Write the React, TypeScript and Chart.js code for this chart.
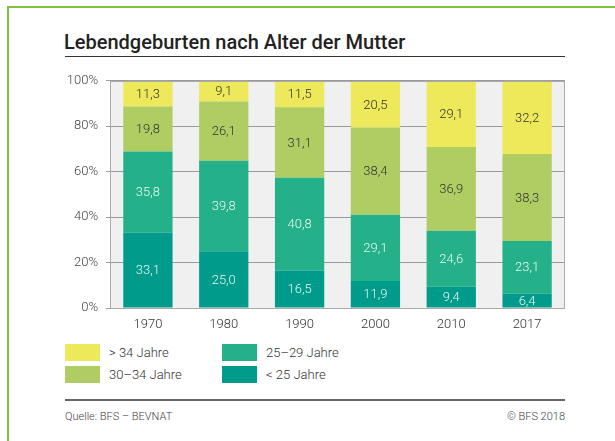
import React, { useEffect, useRef } from "react";
import { Chart, registerables } from "chart.js";

Chart.register(...registerables);

const categories = ["1970", "1980", "1990", "2000", "2010", "2017"];
const under25 = [33.1, 25.0, 16.5, 11.9, 9.4, 6.4];
const age25to29 = [35.8, 39.8, 40.8, 29.1, 24.6, 23.1];
const age30to34 = [19.8, 26.1, 31.1, 38.4, 36.9, 38.3];
const over34 = [11.3, 9.1, 11.5, 20.5, 29.1, 32.2];
const yTicks = [0, 20, 40, 60, 80, 100];

const seriesNames = ["< 25 Jahre", "25–29 Jahre", "30–34 Jahre", "> 34 Jahre"];
const seriesColors = ["#009b8b", "#24b088", "#afcd63", "#eee95a"];
const labelColors = ["rgba(255,255,255,0.9)", "rgba(255,255,255,0.9)", "#333", "#333"];

const FONT = "Roboto, 'Noto Sans', sans-serif";

const bgPlugin = {
  id: "bgFrame",
  beforeDraw(chart: any) {
    const { ctx, chartArea: a } = chart;
    ctx.save();
    ctx.fillStyle = "#f0f0f0";
    ctx.fillRect(a.left, a.top, a.right - a.left, a.bottom - a.top);
    ctx.restore();
  },
  afterDatasetsDraw(chart: any) {
    const { ctx, chartArea: a } = chart;
    ctx.save();
    ctx.font = `300 13px ${FONT}`;
    ctx.textAlign = "center";
    ctx.textBaseline = "middle";
    chart.data.datasets.forEach((ds: any, di: number) => {
      const meta = chart.getDatasetMeta(di);
      meta.data.forEach((bar: any, i: number) => {
        const v = ds.data[i];
        const y = (bar.y + bar.base) / 2;
        ctx.fillStyle = labelColors[di];
        ctx.fillText(v.toFixed(1).replace(".", ","), bar.x, y + 1);
      });
    });
    ctx.strokeStyle = "#aaaaaa";
    ctx.lineWidth = 1;
    ctx.strokeRect(Math.round(a.left) + 0.5, Math.round(a.top) + 0.5, Math.round(a.right - a.left) - 1, Math.round(a.bottom - a.top));
    ctx.restore();
  },
};

function ChartBox() {
  const ref = useRef<HTMLCanvasElement | null>(null);
  useEffect(() => {
    if (!ref.current) return;
    const data = [under25, age25to29, age30to34, over34];
    const chart = new Chart(ref.current, {
      type: "bar",
      data: {
        labels: categories,
        datasets: data.map((d, i) => ({
          label: seriesNames[i],
          data: d,
          backgroundColor: seriesColors[i],
          borderWidth: 0,
          categoryPercentage: 1,
          barPercentage: 0.65,
        })),
      },
      options: {
        animation: false,
        responsive: false,
        maintainAspectRatio: false,
        layout: { padding: { left: 10, right: 15, top: 10, bottom: 0 } },
        plugins: { legend: { display: false }, tooltip: { enabled: false }, title: { display: false } },
        scales: {
          x: {
            stacked: true,
            grid: { display: false, drawTicks: false },
            border: { display: false },
            ticks: { color: "#333", font: { family: FONT, size: 13, weight: "300" }, padding: 9 },
            afterFit: (s: any) => { s.height = 30; },
          },
          y: {
            stacked: true,
            min: 0,
            max: 100,
            afterBuildTicks: (s: any) => { s.ticks = yTicks.map((v) => ({ value: v })); },
            grid: { color: "#9a9a9a", lineWidth: 1, tickLength: 4 },
            border: { display: false },
            ticks: {
              color: "#444",
              font: { family: FONT, size: 13, weight: "300" },
              padding: 8,
              callback: (v: any) => `${v}%`,
            },
            afterFit: (s: any) => { s.width = 60; },
          },
        },
      },
      plugins: [bgPlugin],
    } as any);
    return () => chart.destroy();
  }, []);
  return <canvas ref={ref} width={540} height={273} style={{ position: "absolute", left: 40, top: 65, width: 540, height: 273 }} />;
}

const legendItems = [
  { name: "> 34 Jahre", color: seriesColors[3], left: 65, top: 344 },
  { name: "30–34 Jahre", color: seriesColors[2], left: 65, top: 366 },
  { name: "25–29 Jahre", color: seriesColors[1], left: 222, top: 344 },
  { name: "< 25 Jahre", color: seriesColors[0], left: 222, top: 366 },
];

export default function App() {
  return (
    <div style={{ position: "fixed", left: 0, top: 0, width: 615, height: 441, overflow: "hidden", background: "#fff", fontFamily: FONT }}>
      <div style={{ position: "absolute", left: 7, top: 6, width: 700, height: 500, borderLeft: "2px solid #7ec242", borderTop: "2px solid #7ec242" }} />
      <div style={{ position: "absolute", left: 64, top: 29, fontSize: 20, fontWeight: 500, color: "#222", whiteSpace: "nowrap", lineHeight: "26px" }}>
        Lebendgeburten nach Alter der Mutter
      </div>
      <div style={{ position: "absolute", left: 65, top: 56, width: 500, height: 0, borderTop: "1.5px solid #333" }} />
      <ChartBox />
      {legendItems.map((it) => (
        <div key={it.name} style={{ position: "absolute", left: it.left, top: it.top, height: 17, display: "flex", alignItems: "center", whiteSpace: "nowrap" }}>
          <div style={{ width: 35, height: 17, background: it.color }} />
          <span style={{ marginLeft: 9, fontSize: 13, fontWeight: 300, color: "#333" }}>{it.name}</span>
        </div>
      ))}
      <div style={{ position: "absolute", left: 65, top: 399, width: 500, height: 0, borderTop: "2px solid #666" }} />
      <div style={{ position: "absolute", left: 65, top: 410, fontSize: 11, fontWeight: 300, color: "#444", lineHeight: "14px" }}>Quelle: BFS – BEVNAT</div>
      <div style={{ position: "absolute", left: 365, top: 410, width: 200, textAlign: "right", fontSize: 11, fontWeight: 300, color: "#444", lineHeight: "14px" }}>© BFS 2018</div>
    </div>
  );
}
